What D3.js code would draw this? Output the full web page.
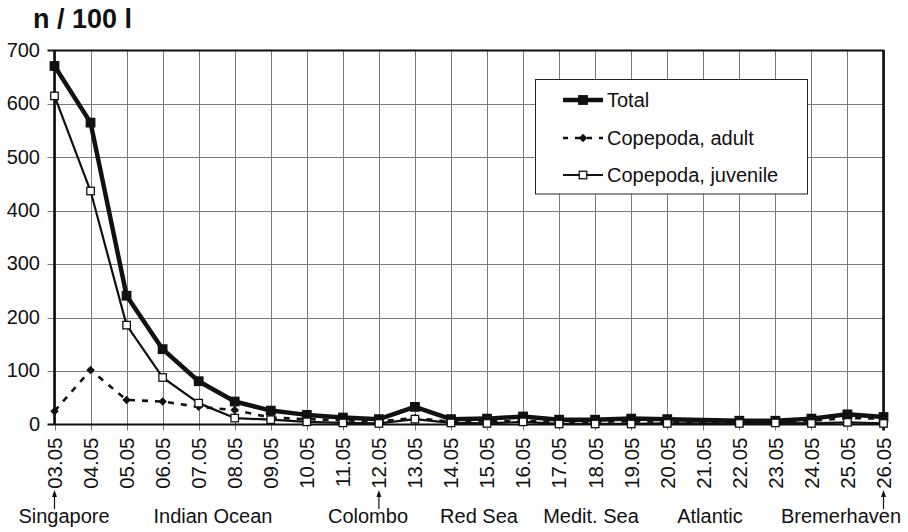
<!DOCTYPE html>
<html>
<head>
<meta charset="utf-8">
<script src="https://cdn.jsdelivr.net/npm/d3@7"></script>
<style>
  html, body { margin: 0; padding: 0; background: #fff; }
  svg { display: block; font-family: "Liberation Sans", Arial, sans-serif; }
</style>
</head>
<body>
<svg id="chart" width="908" height="532"></svg>
<script>
// Sampling dates along the voyage (no sample on 21.05)
const dates = ["03.05","04.05","05.05","06.05","07.05","08.05","09.05","10.05",
  "11.05","12.05","13.05","14.05","15.05","16.05","17.05","18.05","19.05","20.05",
  "21.05","22.05","23.05","24.05","25.05","26.05"];

// Abundance, n / 100 l
const total    = [671, 565, 241, 141, 81, 43, 26, 18, 13, 10, 33, 10, 11, 15, 9, 9, 11, 10, null, 7, 7, 11, 19, 14];
const adult    = [25, 102, 46, 43, 33, 27, 13, 10, 8, 6, 12, 5, 6, 7, 4, 5, 6, 5, null, 3, 4, 7, 12, 11];
const juvenile = [615, 437, 186, 88, 40, 12, 9, 5, 3, 2, 10, 3, 2, 5, 1, 1, 1, 2, null, 2, 3, 2, 4, 2];

const yTicks = [0, 100, 200, 300, 400, 500, 600, 700];

// Route segments written under the date axis
const regions = [
  { name: "Singapore",    at: 64 },
  { name: "Indian Ocean", at: 213 },
  { name: "Colombo",      at: 368 },
  { name: "Red Sea",      at: 479 },
  { name: "Medit. Sea",   at: 591 },
  { name: "Atlantic",     at: 710 },
  { name: "Bremerhaven",  at: 841 }
];
// Ports marked with an arrow to their date
const ports = ["03.05", "12.05", "26.05"];

const svg = d3.select("#chart");
const plotL = 54.5, plotR = 883.5, plotT = 50.5, plotB = 424.5;

const x = d3.scalePoint().domain(dates).range([plotL, plotR]);
const y = d3.scaleLinear().domain([0, 700]).range([plotB, plotT]);

// Grid
const grid = svg.append("g");
grid.selectAll("line.h").data(yTicks.slice(1, -1)).join("line")
  .attr("x1", plotL - 7).attr("x2", plotR)
  .attr("y1", d => Math.round(y(d)) + 0.5).attr("y2", d => Math.round(y(d)) + 0.5)
  .attr("stroke", "#7a7a7a").attr("stroke-width", 1);
grid.selectAll("line.v").data(dates).join("line")
  .attr("x1", d => Math.round(x(d)) + 0.5).attr("x2", d => Math.round(x(d)) + 0.5)
  .attr("y1", plotT).attr("y2", plotB + 6)
  .attr("stroke", "#7a7a7a").attr("stroke-width", 1);

// Frame and axes
svg.append("line").attr("x1", plotL - 7).attr("x2", plotR + 1).attr("y1", plotT).attr("y2", plotT)
  .attr("stroke", "#111").attr("stroke-width", 2.2);
svg.append("line").attr("x1", plotR).attr("x2", plotR).attr("y1", plotT).attr("y2", plotB + 6)
  .attr("stroke", "#111").attr("stroke-width", 2.6);
svg.append("line").attr("x1", plotL).attr("x2", plotL).attr("y1", plotT).attr("y2", plotB)
  .attr("stroke", "#111").attr("stroke-width", 2.6);
svg.append("line").attr("x1", plotL - 7).attr("x2", plotR).attr("y1", plotB).attr("y2", plotB)
  .attr("stroke", "#111").attr("stroke-width", 2.2);

// Y tick labels
svg.append("g").selectAll("text").data(yTicks).join("text")
  .attr("x", 40).attr("y", d => y(d) - 1)
  .attr("dy", "0.36em")
  .attr("text-anchor", "end")
  .attr("font-size", 20).attr("fill", "#111")
  .text(d => d);

// Rotated date labels
svg.append("g").selectAll("text").data(dates).join("text")
  .attr("transform", d => `translate(${x(d)},${plotB + 13}) rotate(-90)`)
  .attr("text-anchor", "end")
  .attr("dy", "0.36em")
  .attr("font-size", 20.5).attr("fill", "#111")
  .text(d => d);

// Title
svg.append("text").attr("x", 33).attr("y", 28)
  .attr("font-size", 27).attr("font-weight", "bold").attr("fill", "#111")
  .text("n / 100 l");

// Region names
svg.append("g").selectAll("text").data(regions).join("text")
  .attr("x", d => d.at).attr("y", 523)
  .attr("text-anchor", "middle")
  .attr("font-size", 20).attr("fill", "#111")
  .text(d => d.name);

// Port arrows
const arrows = svg.append("g");
ports.forEach(p => {
  const px = x(p);
  arrows.append("line").attr("x1", px).attr("x2", px).attr("y1", 509).attr("y2", 495)
    .attr("stroke", "#111").attr("stroke-width", 1.2);
  arrows.append("path")
    .attr("d", `M${px},490 L${px - 2.5},497 L${px + 2.5},497 Z`)
    .attr("fill", "#111");
});

// Series
const seriesList = [
  { name: "Total", values: total, width: 4.5, dash: null, marker: "square", fill: "#111", size: 8.5 },
  { name: "Copepoda, adult", values: adult, width: 2.6, dash: "6,7", marker: "diamond", fill: "#111", size: 8.5 },
  { name: "Copepoda, juvenile", values: juvenile, width: 2.2, dash: null, marker: "square", fill: "#fff", size: 7.5 }
];

const line = d3.line().x(d => x(d.date)).y(d => y(d.value));

function drawMarker(g, cx, cy, s) {
  if (s.marker === "square") {
    g.append("rect").attr("x", cx - s.size / 2).attr("y", cy - s.size / 2)
      .attr("width", s.size).attr("height", s.size)
      .attr("fill", s.fill).attr("stroke", "#111").attr("stroke-width", 1.3);
  } else {
    const r = s.size / 2;
    g.append("path").attr("d", `M${cx},${cy - r} L${cx + r},${cy} L${cx},${cy + r} L${cx - r},${cy} Z`)
      .attr("fill", s.fill);
  }
}

const plot = svg.append("g");
seriesList.forEach(s => {
  const pts = dates.map((d, i) => ({ date: d, value: s.values[i] })).filter(p => p.value != null);
  const g = plot.append("g");
  g.append("path").datum(pts).attr("d", line)
    .attr("fill", "none").attr("stroke", "#111")
    .attr("stroke-width", s.width)
    .attr("stroke-linejoin", "round")
    .attr("stroke-dasharray", s.dash);
  pts.forEach(p => drawMarker(g, x(p.date), y(p.value), s));
});

// Legend
const lg = svg.append("g");
lg.append("rect").attr("x", 535.5).attr("y", 79.5).attr("width", 272).attr("height", 114.5)
  .attr("fill", "#fff").attr("stroke", "#222").attr("stroke-width", 1);
const legendRows = [100, 138, 175];
seriesList.forEach((s, i) => {
  const cy = legendRows[i];
  lg.append("line").attr("x1", 563).attr("x2", 603).attr("y1", cy).attr("y2", cy)
    .attr("stroke", "#111").attr("stroke-width", s.width)
    .attr("stroke-dasharray", s.dash ? "5,7" : null);
  drawMarker(lg, 583, cy, s);
  lg.append("text").attr("x", 607).attr("y", cy).attr("dy", "0.36em")
    .attr("font-size", 20).attr("fill", "#111").text(s.name);
});
</script>
</body>
</html>
